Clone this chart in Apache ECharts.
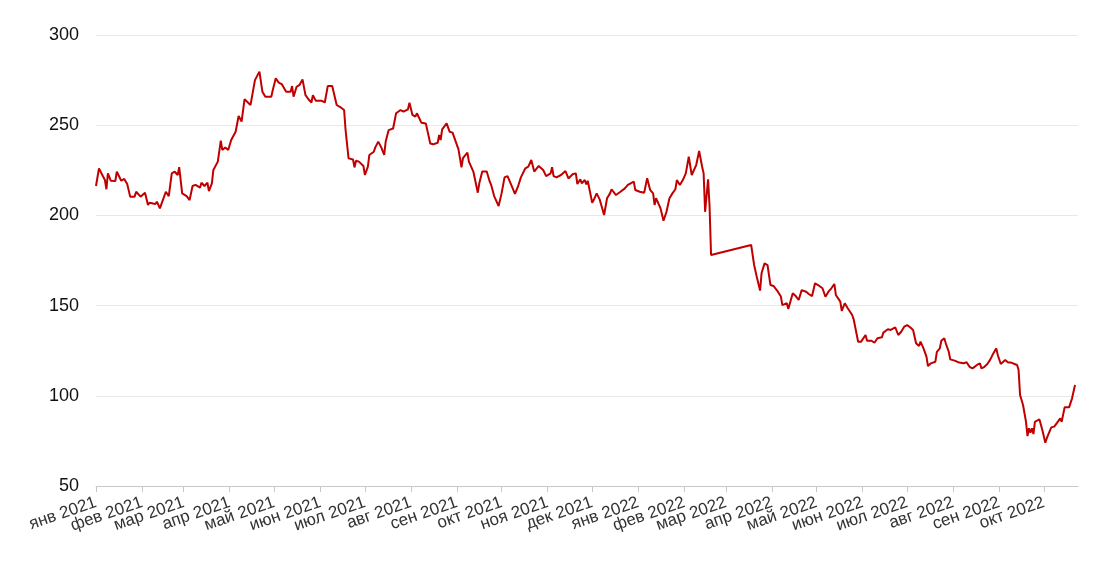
<!DOCTYPE html>
<html>
<head>
<meta charset="utf-8">
<script src="https://cdn.jsdelivr.net/npm/echarts@6/dist/echarts.min.js"></script>
<style>
html,body{margin:0;padding:0;background:#fff;}
#chart{width:1100px;height:567px;}
</style>
</head>
<body>
<div id="chart"></div>
<script>
const monthNames = ['янв','фев','мар','апр','май','июн','июл','авг','сен','окт','ноя','дек'];
const yTicks = [50, 100, 150, 200, 250, 300];

const dates = [
'2021-01-01','2021-01-03','2021-01-07','2021-01-08','2021-01-09','2021-01-11','2021-01-14','2021-01-15','2021-01-18','2021-01-20',
'2021-01-22','2021-01-24','2021-01-27','2021-01-28','2021-01-31','2021-02-03','2021-02-05','2021-02-06','2021-02-10','2021-02-11',
'2021-02-13','2021-02-15','2021-02-17','2021-02-19','2021-02-21','2021-02-23','2021-02-25','2021-02-26','2021-02-28','2021-03-03',
'2021-03-05','2021-03-07','2021-03-09','2021-03-12','2021-03-13','2021-03-15','2021-03-17','2021-03-18','2021-03-20','2021-03-21',
'2021-03-24','2021-03-26','2021-03-27','2021-03-29','2021-03-31','2021-04-02','2021-04-05','2021-04-07','2021-04-09','2021-04-11',
'2021-04-15','2021-04-18','2021-04-21','2021-04-23','2021-04-25','2021-04-29','2021-04-30','2021-05-02','2021-05-04','2021-05-06',
'2021-05-09','2021-05-12','2021-05-13','2021-05-14','2021-05-16','2021-05-18','2021-05-20','2021-05-22','2021-05-24','2021-05-26',
'2021-05-27','2021-05-29','2021-06-02','2021-06-04','2021-06-06','2021-06-09','2021-06-12','2021-06-15','2021-06-17','2021-06-18',
'2021-06-20','2021-06-23','2021-06-24','2021-06-25','2021-06-27','2021-06-30','2021-07-01','2021-07-03','2021-07-04','2021-07-07',
'2021-07-08','2021-07-10','2021-07-12','2021-07-14','2021-07-15','2021-07-17','2021-07-20','2021-07-22','2021-07-25','2021-07-27',
'2021-07-30','2021-07-31','2021-08-02','2021-08-04','2021-08-05','2021-08-08','2021-08-11','2021-08-14','2021-08-16','2021-08-19',
'2021-08-20','2021-08-21','2021-08-22','2021-08-25','2021-08-27','2021-08-29','2021-09-02','2021-09-04','2021-09-05','2021-09-08',
'2021-09-09','2021-09-12','2021-09-15','2021-09-16','2021-09-18','2021-09-21','2021-09-23','2021-09-24','2021-09-26','2021-09-29',
'2021-10-01','2021-10-03','2021-10-05','2021-10-08','2021-10-10','2021-10-12','2021-10-14','2021-10-17','2021-10-19','2021-10-21',
'2021-10-23','2021-10-26','2021-10-29','2021-10-31','2021-11-03','2021-11-04','2021-11-05','2021-11-07','2021-11-10','2021-11-13',
'2021-11-15','2021-11-18','2021-11-20','2021-11-21','2021-11-23','2021-11-24','2021-11-26','2021-11-27','2021-11-28','2021-12-01',
'2021-12-02','2021-12-04','2021-12-06','2021-12-09','2021-12-11','2021-12-13','2021-12-14','2021-12-17','2021-12-20','2021-12-23',
'2021-12-25','2021-12-29','2021-12-30','2022-01-02','2022-01-05','2022-01-07','2022-01-09','2022-01-11','2022-01-12','2022-01-13',
'2022-01-14','2022-01-16','2022-01-18','2022-01-20','2022-01-22','2022-01-24','2022-01-26','2022-01-27','2022-01-29','2022-01-31',
'2022-02-02','2022-02-04','2022-02-06','2022-02-09','2022-02-11','2022-02-13','2022-02-14','2022-02-15','2022-02-17','2022-02-18',
'2022-02-19','2022-03-18','2022-03-20','2022-03-22','2022-03-24','2022-03-25','2022-03-27','2022-03-29','2022-03-31','2022-04-02',
'2022-04-05','2022-04-07','2022-04-08','2022-04-11','2022-04-12','2022-04-15','2022-04-17','2022-04-19','2022-04-21','2022-04-24',
'2022-04-26','2022-04-28','2022-04-30','2022-05-02','2022-05-05','2022-05-07','2022-05-09','2022-05-11','2022-05-13','2022-05-14',
'2022-05-17','2022-05-18','2022-05-20','2022-05-22','2022-05-25','2022-05-26','2022-05-29','2022-05-31','2022-06-03','2022-06-04',
'2022-06-07','2022-06-09','2022-06-11','2022-06-14','2022-06-15','2022-06-18','2022-06-20','2022-06-23','2022-06-25','2022-06-27',
'2022-06-29','2022-07-01','2022-07-03','2022-07-05','2022-07-07','2022-07-09','2022-07-10','2022-07-12','2022-07-14','2022-07-15',
'2022-07-17','2022-07-20','2022-07-21','2022-07-23','2022-07-24','2022-07-26','2022-07-27','2022-07-29','2022-07-30','2022-08-02',
'2022-08-05','2022-08-08','2022-08-10','2022-08-12','2022-08-14','2022-08-17','2022-08-19','2022-08-20','2022-08-22','2022-08-24',
'2022-08-26','2022-08-28','2022-08-30','2022-08-31','2022-09-02','2022-09-05','2022-09-07','2022-09-09','2022-09-10','2022-09-13',
'2022-09-14','2022-09-15','2022-09-17','2022-09-19','2022-09-20','2022-09-21','2022-09-22','2022-09-23','2022-09-24','2022-09-25',
'2022-09-28','2022-09-30','2022-10-02','2022-10-03','2022-10-06','2022-10-08','2022-10-10','2022-10-12','2022-10-13','2022-10-15',
'2022-10-18','2022-10-20','2022-10-22'
];

const values = [
216.3,226,219.6,214.5,223.3,219.2,219,224.2,219.2,220.2,
217.4,210.4,210.4,213.1,210.4,212.6,205.8,207,206.3,207.6,
203.9,208.5,213.1,210.7,223.3,224.2,222.4,226.7,212.2,210.7,
208.5,216.3,216.9,215.4,218.1,216.3,218.1,213.5,217.8,225.2,
229.8,241.4,236.3,237.7,236.3,241.8,246.4,255.1,252,264.4,
261.2,275,279.7,268.6,265.8,265.8,269.5,276,273.6,272.8,
268.6,268.6,271.7,265.8,271.3,272.3,275.4,266.7,264.4,262.6,
266.6,263.5,263.5,262.6,271.7,271.7,261.2,259.7,258.4,247.3,
231.6,231,226.6,230.3,229.8,227.4,222.4,227,233.5,235.3,
237.7,240.9,237.7,233.5,240.9,247.3,248.2,256.6,258.4,257.5,
258.8,262.4,255.7,254.7,256.6,251.4,251,239.9,239.4,240.3,
244.6,241.8,247.7,251,246.4,245.9,236.6,226.7,231.7,234.8,
229.8,224.3,212.6,217.8,224.3,224.3,218.8,216.9,210.7,205.2,
212.2,221.1,221.8,215.9,211.9,215.9,221.1,226.1,227,230.7,
224.3,227.4,225.2,221.8,223.3,226.7,221.8,221.1,222.4,224.6,
220.5,222.9,223.3,217.4,220,217.8,219.6,217.2,219.2,207,
208.5,212.2,208.9,200.2,209.5,212.2,214.5,211.3,213.1,215,
216.9,218.7,214.1,213.1,212.6,220.6,214.1,212.2,205.8,209.5,
210.1,203.9,197,202,209.5,212.2,214.5,219.6,216.9,219.6,
223.3,232.5,222.4,227.9,235.7,227,223.3,202,220,204.9,
178,183.6,172.5,165.1,158.3,167.9,173.4,172.5,161.4,160.9,
157.7,155,150.3,151.3,148.1,156.8,155.3,153.1,158.6,157.7,
156.3,155.3,162.4,161.4,159.6,154.9,157.7,159.6,162,155.9,
152.2,147,151.3,148.5,144.8,142.4,130,130,133.7,130.5,
130.5,129.4,131.9,132.4,135,136.9,136.5,138,133.7,135.5,
138.3,139.2,138,136.5,129.1,127.6,130,126.3,121.7,116.5,
118,118.9,124.4,126.3,130.5,131.9,129.1,124.4,120.2,119.5,
118.4,118,118.6,116.1,115.2,117.1,118,115.2,116.1,117.6,
120.2,123.5,126.3,122.6,117.6,119.8,118.4,118.4,117.6,117.1,
114.3,100.4,94.9,85.6,77.7,82,79.5,82,78.8,85.6,
87,81,74,76.5,82.5,82.9,85.1,87.5,85.6,93.6,
93.6,98.6,106
];

const series = dates.map((d, i) => [d, values[i]]);

const chart = echarts.init(document.getElementById('chart'), null, {renderer: 'canvas'});
chart.setOption({
  animation: false,
  backgroundColor: '#ffffff',
  grid: {left: 96, right: 22, top: 35, bottom: 81, containLabel: false},
  xAxis: {
    type: 'time',
    min: '2021-01-01',
    max: '2022-10-24',
    splitNumber: 22,
    minInterval: 28 * 24 * 3600 * 1000,
    maxInterval: 31 * 24 * 3600 * 1000,
    axisLine: {show: true, lineStyle: {color: '#c8c8c8', width: 1}},
    axisTick: {show: true, length: 6, lineStyle: {color: '#c8c8c8'}},
    splitLine: {show: false},
    axisLabel: {
      rotate: 19,
      margin: 16,
      fontFamily: 'Liberation Sans, Arial, sans-serif',
      fontSize: 17,
      color: '#333333',
      showMinLabel: true,
      showMaxLabel: false,
      formatter: function (val) {
        const d = new Date(val);
        return monthNames[d.getMonth()] + ' ' + d.getFullYear();
      }
    }
  },
  yAxis: {
    type: 'value',
    min: yTicks[0],
    max: yTicks[yTicks.length - 1],
    interval: 50,
    axisLine: {show: false},
    axisTick: {show: false},
    splitLine: {show: true, lineStyle: {color: '#e8e8e8', width: 1}},
    axisLabel: {
      margin: 17,
      fontFamily: 'Liberation Sans, Arial, sans-serif',
      fontSize: 18,
      color: '#111111'
    }
  },
  series: [{
    type: 'line',
    data: series,
    showSymbol: false,
    symbol: 'none',
    lineStyle: {color: '#c00000', width: 2},
    itemStyle: {color: '#c00000'}
  }]
});
</script>
</body>
</html>
